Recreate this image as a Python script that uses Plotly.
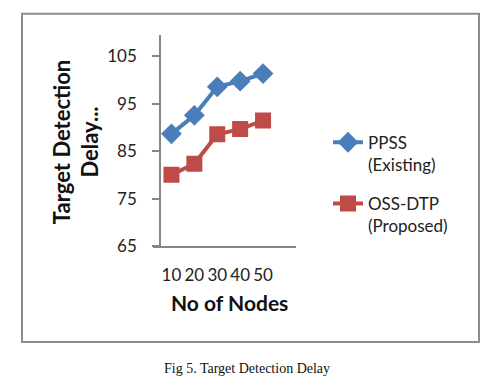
import plotly.graph_objects as go

categories = ["10", "20", "30", "40", "50"]
ppss = [88.7, 92.6, 98.6, 99.8, 101.4]
oss_dtp = [80.1, 82.4, 88.6, 89.7, 91.5]
y_ticks = [65, 75, 85, 95, 105]

W, H = 494, 385
xpos = list(range(len(categories)))

fig = go.Figure()
fig.add_trace(go.Scatter(
    x=xpos, y=ppss, mode="lines+markers", name="PPSS<br>(Existing)",
    legendgroup="a",
    line=dict(color="#4A7EBB", width=4),
    marker=dict(symbol="diamond", size=16, color="#4A7EBB"),
))
fig.add_trace(go.Scatter(
    x=xpos, y=oss_dtp, mode="lines+markers", name="OSS-DTP<br>(Proposed)",
    legendgroup="b",
    line=dict(color="#BE4B48", width=4),
    marker=dict(symbol="square", size=16, color="#BE4B48"),
))

font_main = "Lato, 'Open Sans', sans-serif"

fig.update_layout(
    width=W, height=H,
    margin=dict(l=0, r=0, t=0, b=0),
    paper_bgcolor="white", plot_bgcolor="white",
    font=dict(family=font_main, color="#222222", size=17),
    xaxis=dict(
        domain=[153 / W, 296 / W],
        range=[-0.5 - 7 / 22.9, -0.5 + 136 / 22.9],
        tickvals=xpos, ticktext=categories,
        showline=True, linecolor="#868686", linewidth=1.5,
        showgrid=False, zeroline=False, ticks="",
        tickfont=dict(size=17),
        ticklabelstandoff=12,
        fixedrange=True,
    ),
    yaxis=dict(
        domain=[1 - 253 / H, 1 - 36 / H],
        range=[65, 109.5],
        tickvals=y_ticks,
        anchor="free", position=160 / W,
        showline=True, linecolor="#868686", linewidth=1.5,
        ticks="outside", ticklen=7, tickcolor="#868686", tickwidth=1.5,
        showgrid=False, zeroline=False,
        tickfont=dict(size=17),
        ticklabelstandoff=12,
        fixedrange=True,
    ),
    legend=dict(
        x=328 / W, y=1 - 128 / H, xanchor="left", yanchor="top",
        font=dict(size=17, family=font_main),
        tracegroupgap=14, bgcolor="rgba(0,0,0,0)", valign="top",
    ),
    showlegend=True,
)

# Outer chart border
fig.add_shape(type="rect", xref="paper", yref="paper",
              x0=22 / W, x1=479 / W, y0=1 - 351 / H, y1=1 - 14 / H,
              line=dict(color="#8C8C8C", width=2))

# Axis titles
fig.add_annotation(text="<b>No of Nodes</b>", xref="paper", yref="paper",
                   x=229 / W, y=1 - 311 / H, xanchor="center", yanchor="middle",
                   showarrow=False,
                   font=dict(size=21, family=font_main, color="#111111"))
fig.add_annotation(text="<b>Target Detection<br>Delay...</b>", xref="paper", yref="paper",
                   x=76 / W, y=1 - 146 / H, xanchor="center", yanchor="middle",
                   showarrow=False, textangle=-90,
                   font=dict(size=22, family=font_main, color="#111111"))

# Caption
fig.add_annotation(text="Fig 5. Target Detection Delay", xref="paper", yref="paper",
                   x=247 / W, y=1 - 378 / H, xanchor="center", yanchor="middle",
                   showarrow=False,
                   font=dict(size=14, family="'Liberation Serif', 'Times New Roman', serif", color="#111111"))

fig.write_html("out.html", config={"displayModeBar": False},
               post_script="document.body.style.margin='0';")
